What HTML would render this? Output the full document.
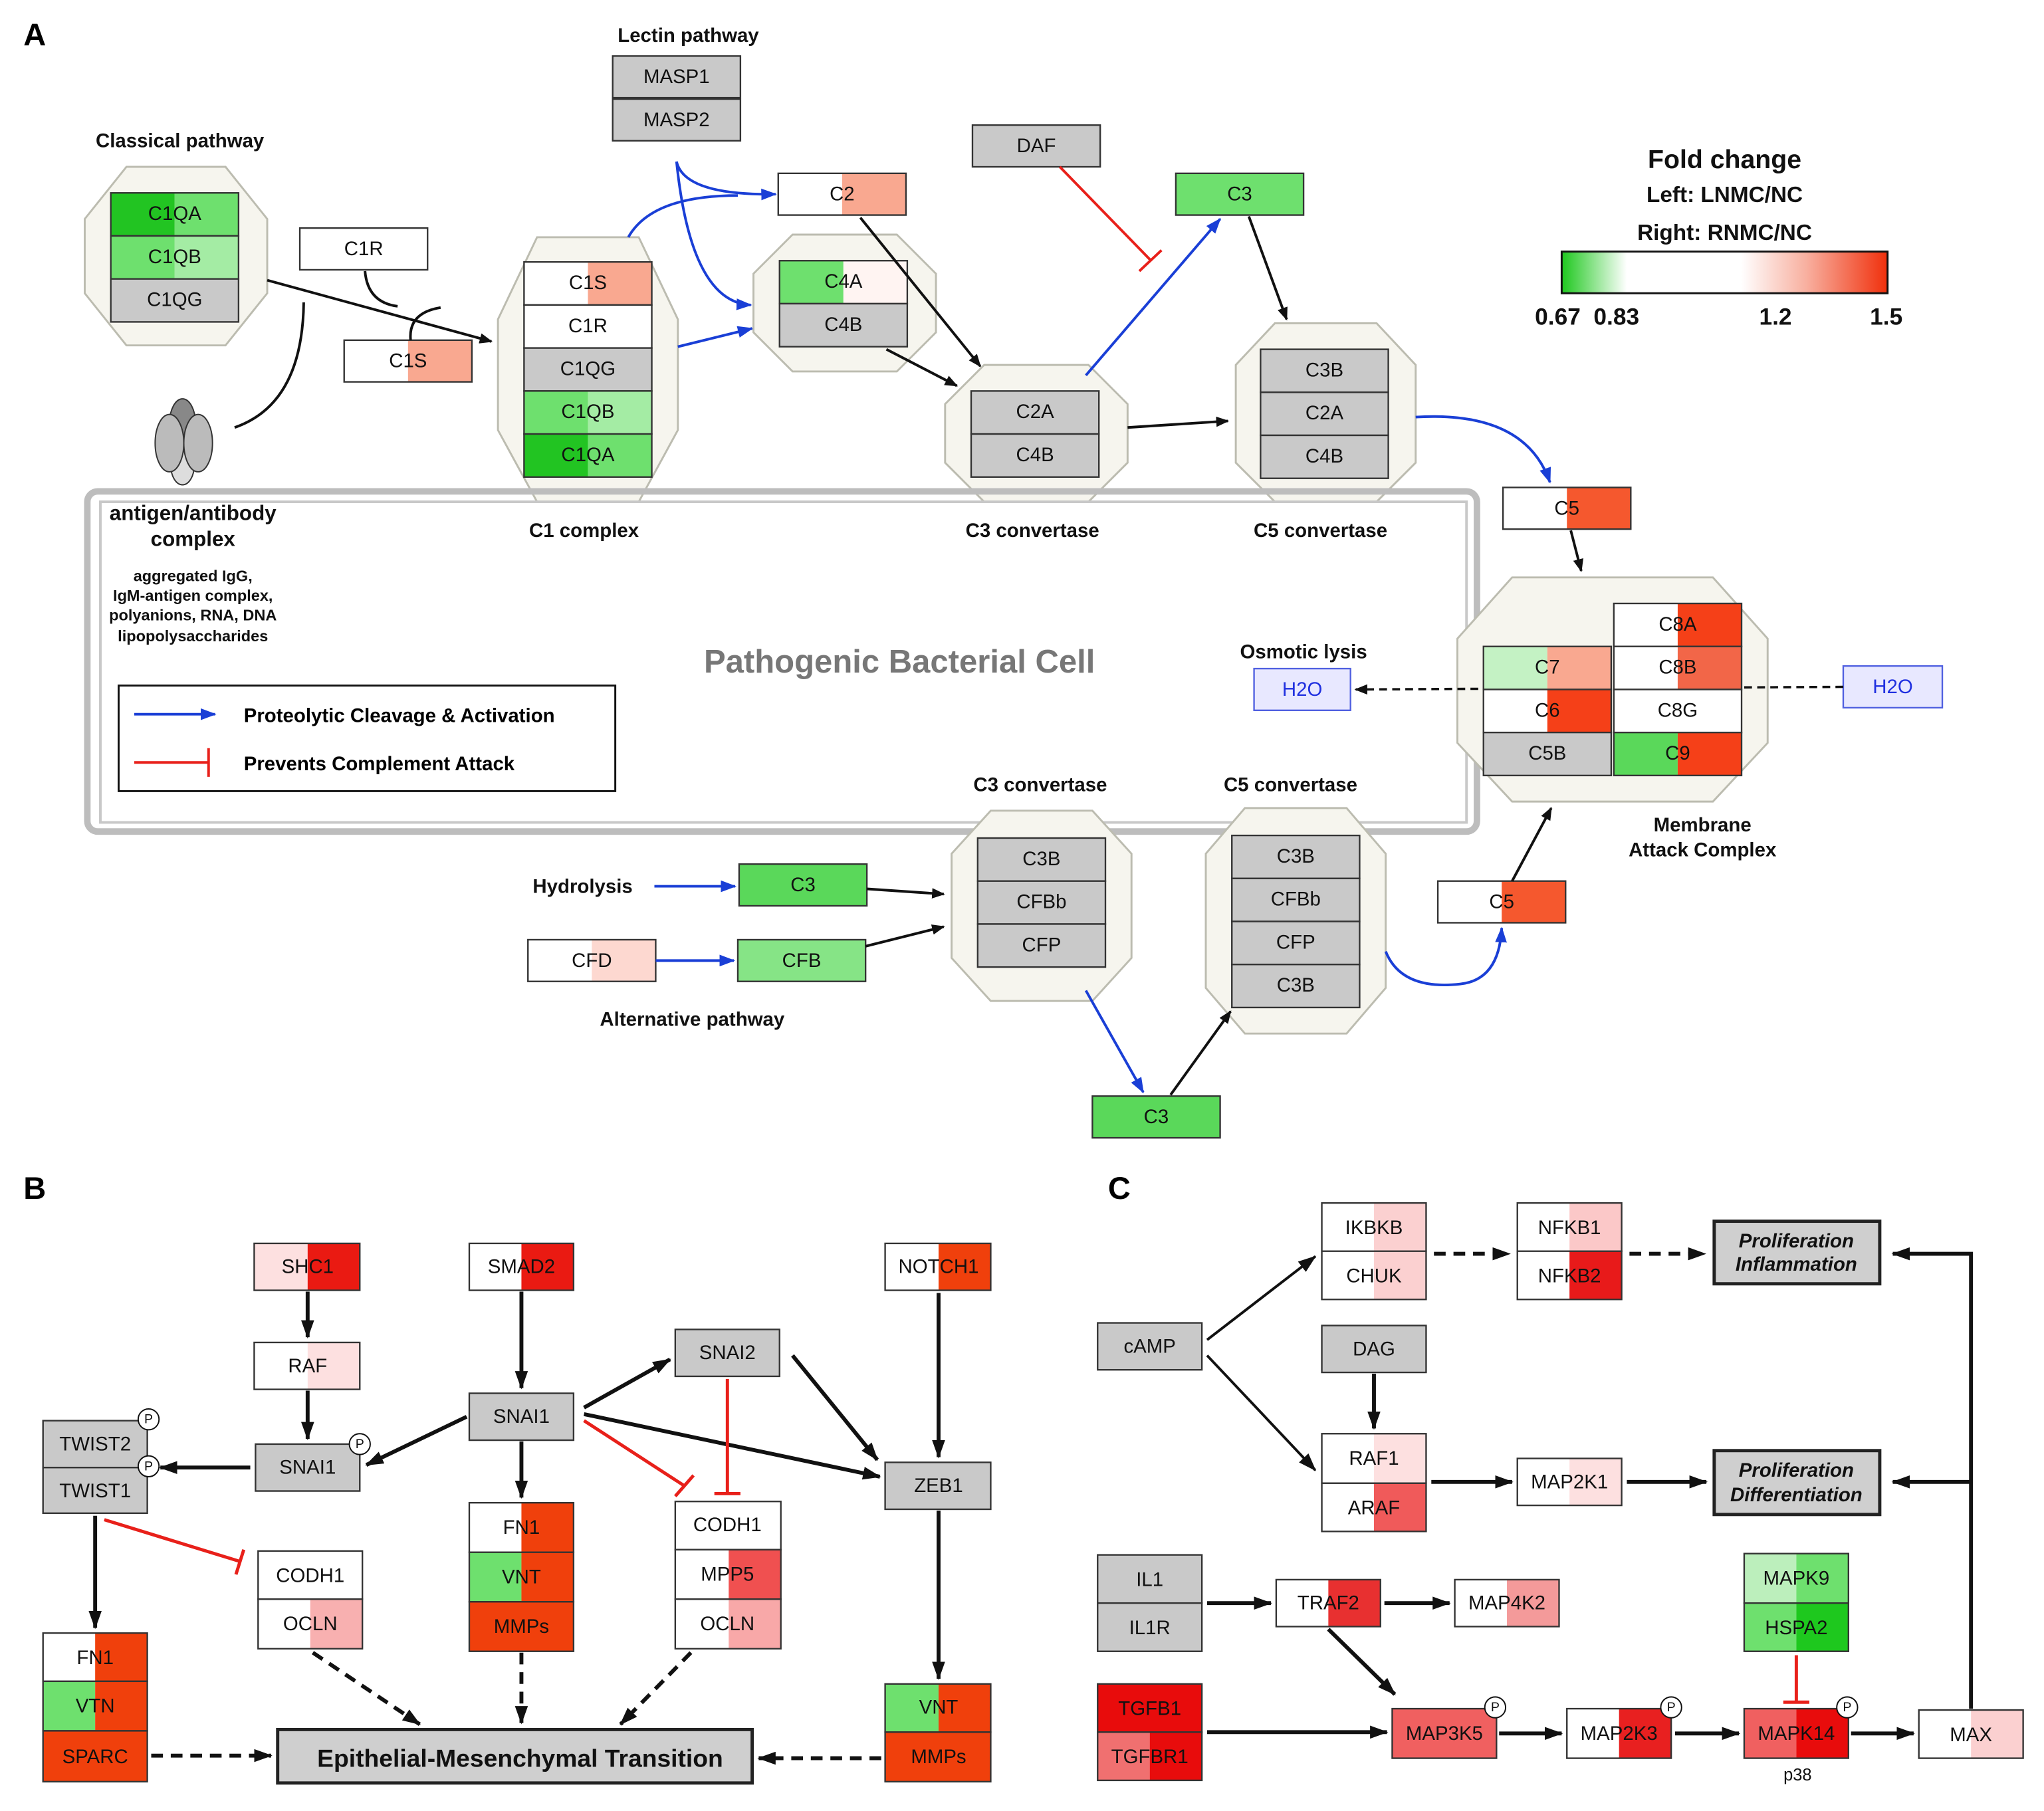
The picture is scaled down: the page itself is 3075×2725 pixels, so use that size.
<!DOCTYPE html>
<html><head><meta charset="utf-8"><style>
html,body{margin:0;padding:0;background:#fff}
svg{display:block}
text{font-family:"Liberation Sans",Arial,sans-serif}
.b{font-size:15px;fill:#111;text-anchor:middle;dominant-baseline:central}
.l{font-size:15px;font-weight:bold;fill:#111;text-anchor:middle}
.o{stroke:#333;stroke-width:1.2}
.o:not([fill]){fill:none}
.oct{fill:#f6f5ee;stroke:#bcbcb0;stroke-width:1.5}
.k{stroke:#111;stroke-width:2;fill:none}
.kb{stroke:#111;stroke-width:3;fill:none}
.bl{stroke:#1a3fd6;stroke-width:2;fill:none}
.rd{stroke:#e8201a;stroke-width:2;fill:none}
.pc{fill:#fff;stroke:#111;stroke-width:1}
</style></head><body>
<svg width="3075" height="2725" viewBox="0 0 1568 1389.5" preserveAspectRatio="none" xmlns="http://www.w3.org/2000/svg">
<defs>
<marker id="ak" markerWidth="10" markerHeight="8" refX="9" refY="4" orient="auto" markerUnits="userSpaceOnUse"><path d="M0,0L10,4L0,8z" fill="#111"/></marker>
<marker id="akb" markerWidth="14" markerHeight="10" refX="13" refY="5" orient="auto" markerUnits="userSpaceOnUse"><path d="M0,0L14,5L0,10z" fill="#111"/></marker>
<marker id="ab" markerWidth="12" markerHeight="9" refX="11" refY="4.5" orient="auto" markerUnits="userSpaceOnUse"><path d="M0,0L12,4.5L0,9z" fill="#1a3fd6"/></marker>
<linearGradient id="fc" x1="0" x2="1"><stop offset="0" stop-color="#1ec81e"/><stop offset="0.2" stop-color="#ffffff"/><stop offset="0.55" stop-color="#ffffff"/><stop offset="0.75" stop-color="#f8b0a0"/><stop offset="1" stop-color="#f0300c"/></linearGradient>
</defs>

<!-- ===== A ===== -->
<text x="18" y="35" style="font-size:24px;font-weight:bold">A</text>
<text x="138" y="113" class="l">Classical pathway</text>
<polygon class="oct" points="97,128 173,128 205,168 205,225 173,265 97,265 65,225 65,168"/>
<rect x="85" y="148" width="49" height="33" fill="#22c422"/><rect x="134" y="148" width="49" height="33" fill="#6ee06e"/><rect x="85" y="148" width="98" height="33" class="o"/><text x="134" y="164" class="b">C1QA</text>
<rect x="85" y="181" width="49" height="33" fill="#6ee06e"/><rect x="134" y="181" width="49" height="33" fill="#a4eca4"/><rect x="85" y="181" width="98" height="33" class="o"/><text x="134" y="197" class="b">C1QB</text>
<rect x="85" y="214" width="98" height="33" fill="#c9c9c9" class="o"/><text x="134" y="230" class="b">C1QG</text>

<rect x="230" y="175" width="98" height="32" fill="#fff" class="o"/><text x="279" y="191" class="b">C1R</text>
<rect x="264" y="261" width="49" height="32" fill="#fff"/><rect x="313" y="261" width="49" height="32" fill="#f9a890"/><rect x="264" y="261" width="98" height="32" class="o"/><text x="313" y="277" class="b">C1S</text>
<path class="k" d="M205,215 L377,262" marker-end="url(#ak)"/>
<path class="k" d="M280,208 Q282,232 305,235"/>
<path class="k" d="M315,261 Q313,240 338,236"/>
<path class="k" d="M233,232 Q232,310 180,328"/>
<!-- antibody -->
<ellipse cx="140" cy="325" rx="10" ry="19" fill="#888" stroke="#333"/>
<ellipse cx="140" cy="357" rx="9" ry="15" fill="#ddd" stroke="#333"/>
<ellipse cx="130" cy="340" rx="11" ry="22" fill="#bbb" stroke="#333"/>
<ellipse cx="152" cy="340" rx="11" ry="22" fill="#bbb" stroke="#333"/>

<!-- C1 complex -->
<polygon class="oct" points="412,182 490,182 520,245 520,330 490,385 412,385 382,330 382,245"/>
<rect x="402" y="201" width="49" height="33" fill="#fff"/><rect x="451" y="201" width="49" height="33" fill="#f9a890"/><rect x="402" y="201" width="98" height="33" class="o"/><text x="451" y="217" class="b">C1S</text>
<rect x="402" y="234" width="98" height="33" fill="#fff" class="o"/><text x="451" y="250" class="b">C1R</text>
<rect x="402" y="267" width="98" height="33" fill="#c9c9c9" class="o"/><text x="451" y="283" class="b">C1QG</text>
<rect x="402" y="300" width="49" height="33" fill="#6ee06e"/><rect x="451" y="300" width="49" height="33" fill="#a4eca4"/><rect x="402" y="300" width="98" height="33" class="o"/><text x="451" y="316" class="b">C1QB</text>
<rect x="402" y="333" width="49" height="33" fill="#22c422"/><rect x="451" y="333" width="49" height="33" fill="#6ee06e"/><rect x="402" y="333" width="98" height="33" class="o"/><text x="451" y="349" class="b">C1QA</text>
<text x="448" y="412" class="l">C1 complex</text>

<!-- Lectin -->
<text x="528" y="32" class="l">Lectin pathway</text>
<rect x="470" y="43" width="98" height="32" fill="#c9c9c9" class="o"/><text x="519" y="59" class="b">MASP1</text>
<rect x="470" y="76" width="98" height="32" fill="#c9c9c9" class="o"/><text x="519" y="92" class="b">MASP2</text>
<rect x="597" y="133" width="49" height="32" fill="#fff"/><rect x="646" y="133" width="49" height="32" fill="#f9a890"/><rect x="597" y="133" width="98" height="32" class="o"/><text x="646" y="149" class="b">C2</text>
<path class="bl" d="M519,124 Q525,150 595,149" marker-end="url(#ab)"/>
<path class="bl" d="M519,124 Q530,232 576,234" marker-end="url(#ab)"/>
<path class="bl" d="M482,182 Q500,150 566,150"/>
<path class="bl" d="M520,266 L577,252" marker-end="url(#ab)"/>

<polygon class="oct" points="608,180 688,180 718,210 718,255 688,285 608,285 578,255 578,210"/>
<rect x="598" y="200" width="49" height="33" fill="#6ee06e"/><rect x="647" y="200" width="49" height="33" fill="#fff4f2"/><rect x="598" y="200" width="98" height="33" class="o"/><text x="647" y="216" class="b">C4A</text>
<rect x="598" y="233" width="98" height="33" fill="#c9c9c9" class="o"/><text x="647" y="249" class="b">C4B</text>

<rect x="746" y="96" width="98" height="32" fill="#c9c9c9" class="o"/><text x="795" y="112" class="b">DAF</text>
<path class="rd" d="M813,128 L883,200"/><path class="rd" d="M874,208 L891,192"/>
<rect x="902" y="133" width="98" height="32" fill="#6ee06e" class="o"/><text x="951" y="149" class="b">C3</text>

<polygon class="oct" points="755,280 835,280 865,310 865,355 835,385 755,385 725,355 725,310"/>
<rect x="745" y="300" width="98" height="33" fill="#c9c9c9" class="o"/><text x="794" y="316" class="b">C2A</text>
<rect x="745" y="333" width="98" height="33" fill="#c9c9c9" class="o"/><text x="794" y="349" class="b">C4B</text>
<text x="792" y="412" class="l">C3 convertase</text>
<path class="k" d="M660,167 L752,281" marker-end="url(#ak)"/>
<path class="k" d="M680,268 L734,296" marker-end="url(#ak)"/>
<path class="bl" d="M833,288 L936,168" marker-end="url(#ab)"/>
<path class="k" d="M958,166 L987,245" marker-end="url(#ak)"/>
<path class="k" d="M865,328 L942,323" marker-end="url(#ak)"/>

<polygon class="oct" points="978,248 1056,248 1086,280 1086,355 1056,385 978,385 948,355 948,280"/>
<rect x="967" y="268" width="98" height="33" fill="#c9c9c9" class="o"/><text x="1016" y="284" class="b">C3B</text>
<rect x="967" y="301" width="98" height="33" fill="#c9c9c9" class="o"/><text x="1016" y="317" class="b">C2A</text>
<rect x="967" y="334" width="98" height="33" fill="#c9c9c9" class="o"/><text x="1016" y="350" class="b">C4B</text>
<text x="1013" y="412" class="l">C5 convertase</text>
<path class="bl" d="M1086,320 Q1170,315 1189,370" marker-end="url(#ab)"/>

<!-- legend -->
<text x="1323" y="129" class="l" style="font-size:20px">Fold change</text>
<text x="1323" y="155" class="l" style="font-size:17px">Left: LNMC/NC</text>
<text x="1323" y="184" class="l" style="font-size:17px">Right: RNMC/NC</text>
<rect x="1198" y="193" width="250" height="32" fill="url(#fc)" stroke="#111" stroke-width="1.5"/>
<text x="1195" y="249" class="l" style="font-size:18px">0.67</text>
<text x="1240" y="249" class="l" style="font-size:18px">0.83</text>
<text x="1362" y="249" class="l" style="font-size:18px">1.2</text>
<text x="1447" y="249" class="l" style="font-size:18px">1.5</text>

<rect x="1153" y="374" width="49" height="32" fill="#fff"/><rect x="1202" y="374" width="49" height="32" fill="#f5582e"/><rect x="1153" y="374" width="98" height="32" class="o"/><text x="1202" y="390" class="b">C5</text>
<path class="k" d="M1205,407 L1213,438" marker-end="url(#ak)"/>

<!-- cell -->
<rect x="67" y="377" width="1066" height="261" rx="8" fill="none" stroke="#bdbdbd" stroke-width="5"/>
<rect x="77" y="385" width="1048" height="246" fill="none" stroke="#c8c8c8" stroke-width="2"/>
<text x="148" y="399" class="l" style="font-size:16px">antigen/antibody</text>
<text x="148" y="419" class="l" style="font-size:16px">complex</text>
<text x="148" y="446" class="l" style="font-size:12px">aggregated IgG,</text>
<text x="148" y="461" class="l" style="font-size:12px">IgM-antigen complex,</text>
<text x="148" y="476" class="l" style="font-size:12px">polyanions, RNA, DNA</text>
<text x="148" y="492" class="l" style="font-size:12px">lipopolysaccharides</text>
<text x="690" y="516" class="l" style="font-size:25px;fill:#777">Pathogenic Bacterial Cell</text>
<rect x="91" y="526" width="381" height="81" fill="#fff" stroke="#111" stroke-width="1.5"/>
<path class="bl" d="M103,548 L165,548" marker-end="url(#ab)"/>
<path class="rd" d="M103,585 L160,585 M160,574 L160,596"/>
<text x="187" y="554" style="font-size:15px;font-weight:bold">Proteolytic Cleavage &amp; Activation</text>
<text x="187" y="591" style="font-size:15px;font-weight:bold">Prevents Complement Attack</text>

<text x="1000" y="505" class="l">Osmotic lysis</text>
<rect x="962" y="513" width="74" height="32" fill="#e8e8ff" stroke="#5060e0" stroke-width="1.2"/><text x="999" y="529" class="b" style="fill:#2030e0">H2O</text>
<rect x="1414" y="511" width="76" height="32" fill="#e8e8ff" stroke="#5060e0" stroke-width="1.2"/><text x="1452" y="527" class="b" style="fill:#2030e0">H2O</text>

<!-- MAC -->
<polygon class="oct" points="1160,443 1314,443 1356,490 1356,570 1314,615 1160,615 1118,570 1118,490"/>
<path d="M1414,527 L1040,529" stroke="#111" stroke-width="1.8" stroke-dasharray="6,4" fill="none" marker-end="url(#ak)"/>
<rect x="1138" y="496" width="49" height="33" fill="#c4f2c4"/><rect x="1187" y="496" width="49" height="33" fill="#f9a890"/><rect x="1138" y="496" width="98" height="33" class="o"/><text x="1187" y="512" class="b">C7</text>
<rect x="1138" y="529" width="49" height="33" fill="#fff"/><rect x="1187" y="529" width="49" height="33" fill="#f54018"/><rect x="1138" y="529" width="98" height="33" class="o"/><text x="1187" y="545" class="b">C6</text>
<rect x="1138" y="562" width="98" height="33" fill="#c9c9c9" class="o"/><text x="1187" y="578" class="b">C5B</text>
<rect x="1238" y="463" width="49" height="33" fill="#fff"/><rect x="1287" y="463" width="49" height="33" fill="#f54018"/><rect x="1238" y="463" width="98" height="33" class="o"/><text x="1287" y="479" class="b">C8A</text>
<rect x="1238" y="496" width="49" height="33" fill="#fff"/><rect x="1287" y="496" width="49" height="33" fill="#f26648"/><rect x="1238" y="496" width="98" height="33" class="o"/><text x="1287" y="512" class="b">C8B</text>
<rect x="1238" y="529" width="98" height="33" fill="#fff" class="o"/><text x="1287" y="545" class="b">C8G</text>
<rect x="1238" y="562" width="49" height="33" fill="#5ad85a"/><rect x="1287" y="562" width="49" height="33" fill="#f54018"/><rect x="1238" y="562" width="98" height="33" class="o"/><text x="1287" y="578" class="b">C9</text>
<text x="1306" y="638" class="l">Membrane</text>
<text x="1306" y="657" class="l">Attack Complex</text>

<!-- alternative -->
<text x="798" y="607" class="l">C3 convertase</text>
<text x="990" y="607" class="l">C5 convertase</text>
<polygon class="oct" points="760,622 838,622 868,655 868,735 838,768 760,768 730,735 730,655"/>
<rect x="750" y="643" width="98" height="33" fill="#c9c9c9" class="o"/><text x="799" y="659" class="b">C3B</text>
<rect x="750" y="676" width="98" height="33" fill="#c9c9c9" class="o"/><text x="799" y="692" class="b">CFBb</text>
<rect x="750" y="709" width="98" height="33" fill="#c9c9c9" class="o"/><text x="799" y="725" class="b">CFP</text>
<polygon class="oct" points="955,620 1033,620 1063,655 1063,758 1033,793 955,793 925,758 925,655"/>
<rect x="945" y="641" width="98" height="33" fill="#c9c9c9" class="o"/><text x="994" y="657" class="b">C3B</text>
<rect x="945" y="674" width="98" height="33" fill="#c9c9c9" class="o"/><text x="994" y="690" class="b">CFBb</text>
<rect x="945" y="707" width="98" height="33" fill="#c9c9c9" class="o"/><text x="994" y="723" class="b">CFP</text>
<rect x="945" y="740" width="98" height="33" fill="#c9c9c9" class="o"/><text x="994" y="756" class="b">C3B</text>

<text x="447" y="685" class="l">Hydrolysis</text>
<path class="bl" d="M502,680 L564,680" marker-end="url(#ab)"/>
<rect x="567" y="663" width="98" height="32" fill="#5ad85a" class="o"/><text x="616" y="679" class="b">C3</text>
<path class="k" d="M665,682 L724,686" marker-end="url(#ak)"/>
<rect x="405" y="721" width="49" height="32" fill="#fff"/><rect x="454" y="721" width="49" height="32" fill="#fdd8d0"/><rect x="405" y="721" width="98" height="32" class="o"/><text x="454" y="737" class="b">CFD</text>
<path class="bl" d="M503,737 L563,737" marker-end="url(#ab)"/>
<rect x="566" y="721" width="98" height="32" fill="#86e486" class="o"/><text x="615" y="737" class="b">CFB</text>
<path class="k" d="M664,726 L724,711" marker-end="url(#ak)"/>
<text x="531" y="787" class="l">Alternative pathway</text>

<rect x="1103" y="676" width="49" height="32" fill="#fff"/><rect x="1152" y="676" width="49" height="32" fill="#f5582e"/><rect x="1103" y="676" width="98" height="32" class="o"/><text x="1152" y="692" class="b">C5</text>
<path class="bl" d="M1063,730 Q1075,760 1120,755 Q1150,752 1152,712" marker-end="url(#ab)"/>
<path class="k" d="M1160,676 L1190,620" marker-end="url(#ak)"/>
<rect x="838" y="841" width="98" height="32" fill="#5ad85a" class="o"/><text x="887" y="857" class="b">C3</text>
<path class="bl" d="M833,760 L877,838" marker-end="url(#ab)"/>
<path class="k" d="M898,840 L944,776" marker-end="url(#ak)"/>

<!-- ===== B ===== -->
<text x="18" y="920" style="font-size:24px;font-weight:bold">B</text>
<rect x="195" y="954" width="41" height="36" fill="#fde0e0"/><rect x="236" y="954" width="40" height="36" fill="#ea1a12"/><rect x="195" y="954" width="81" height="36" class="o" stroke="#999"/><text x="236" y="972" class="b">SHC1</text>
<rect x="360" y="954" width="40" height="36" fill="#fff"/><rect x="400" y="954" width="40" height="36" fill="#ea1a12"/><rect x="360" y="954" width="80" height="36" class="o" stroke="#999"/><text x="400" y="972" class="b">SMAD2</text>
<rect x="679" y="954" width="41" height="36" fill="#fff"/><rect x="720" y="954" width="40" height="36" fill="#f0400c"/><rect x="679" y="954" width="81" height="36" class="o" stroke="#999"/><text x="720" y="972" class="b">NOTCH1</text>
<rect x="195" y="1030" width="41" height="36" fill="#fff"/><rect x="236" y="1030" width="40" height="36" fill="#fde0e0"/><rect x="195" y="1030" width="81" height="36" class="o" stroke="#999"/><text x="236" y="1048" class="b">RAF</text>
<rect x="360" y="1069" width="80" height="36" fill="#c9c9c9" class="o" stroke="#999"/><text x="400" y="1087" class="b">SNAI1</text>
<rect x="518" y="1020" width="80" height="36" fill="#c9c9c9" class="o" stroke="#999"/><text x="558" y="1038" class="b">SNAI2</text>
<rect x="33" y="1090" width="80" height="36" fill="#c9c9c9" class="o" stroke="#999"/><text x="73" y="1108" class="b">TWIST2</text>
<rect x="33" y="1126" width="80" height="35" fill="#c9c9c9" class="o" stroke="#999"/><text x="73" y="1144" class="b">TWIST1</text>
<circle cx="114" cy="1089" r="8" class="pc"/><text x="114" y="1089" class="b" style="font-size:10px">P</text>
<circle cx="114" cy="1125" r="8" class="pc"/><text x="114" y="1125" class="b" style="font-size:10px">P</text>
<rect x="196" y="1108" width="80" height="36" fill="#c9c9c9" class="o" stroke="#999"/><text x="236" y="1126" class="b">SNAI1</text>
<circle cx="276" cy="1108" r="8" class="pc"/><text x="276" y="1108" class="b" style="font-size:10px">P</text>
<rect x="679" y="1122" width="81" height="36" fill="#c9c9c9" class="o" stroke="#999"/><text x="720" y="1140" class="b">ZEB1</text>
<rect x="198" y="1190" width="80" height="37" fill="#fff" class="o" stroke="#999"/><text x="238" y="1209" class="b">CODH1</text>
<rect x="198" y="1227" width="40" height="38" fill="#fff"/><rect x="238" y="1227" width="40" height="38" fill="#f8b0b0"/><rect x="198" y="1227" width="80" height="38" class="o" stroke="#999"/><text x="238" y="1246" class="b">OCLN</text>
<rect x="360" y="1153" width="40" height="38" fill="#fff"/><rect x="400" y="1153" width="40" height="38" fill="#f0400c"/><rect x="360" y="1153" width="80" height="38" class="o" stroke="#999"/><text x="400" y="1172" class="b">FN1</text>
<rect x="360" y="1191" width="40" height="38" fill="#6ee06e"/><rect x="400" y="1191" width="40" height="38" fill="#f0400c"/><rect x="360" y="1191" width="80" height="38" class="o" stroke="#999"/><text x="400" y="1210" class="b">VNT</text>
<rect x="360" y="1229" width="80" height="38" fill="#f0400c" class="o" stroke="#999"/><text x="400" y="1248" class="b">MMPs</text>
<rect x="518" y="1152" width="81" height="37" fill="#fff" class="o" stroke="#999"/><text x="558" y="1170" class="b">CODH1</text>
<rect x="518" y="1189" width="41" height="38" fill="#fff"/><rect x="559" y="1189" width="40" height="38" fill="#f05050"/><rect x="518" y="1189" width="81" height="38" class="o" stroke="#999"/><text x="558" y="1208" class="b">MPP5</text>
<rect x="518" y="1227" width="41" height="38" fill="#fff"/><rect x="559" y="1227" width="40" height="38" fill="#f8a8a8"/><rect x="518" y="1227" width="81" height="38" class="o" stroke="#999"/><text x="558" y="1246" class="b">OCLN</text>
<rect x="33" y="1253" width="40" height="37" fill="#fff"/><rect x="73" y="1253" width="40" height="37" fill="#f0400c"/><rect x="33" y="1253" width="80" height="37" class="o" stroke="#999"/><text x="73" y="1272" class="b">FN1</text>
<rect x="33" y="1290" width="40" height="38" fill="#6ee06e"/><rect x="73" y="1290" width="40" height="38" fill="#f0400c"/><rect x="33" y="1290" width="80" height="38" class="o" stroke="#999"/><text x="73" y="1309" class="b">VTN</text>
<rect x="33" y="1328" width="80" height="39" fill="#f0400c" class="o" stroke="#999"/><text x="73" y="1348" class="b">SPARC</text>
<rect x="679" y="1292" width="41" height="37" fill="#6ee06e"/><rect x="720" y="1292" width="40" height="37" fill="#f0400c"/><rect x="679" y="1292" width="81" height="37" class="o" stroke="#999"/><text x="720" y="1310" class="b">VNT</text>
<rect x="679" y="1329" width="81" height="38" fill="#f0400c" class="o" stroke="#999"/><text x="720" y="1348" class="b">MMPs</text>
<rect x="213" y="1327" width="364" height="41" fill="#cfcfcf" stroke="#222" stroke-width="2.5"/><text x="399" y="1349" class="b" style="font-size:19px;font-weight:bold">Epithelial-Mesenchymal Transition</text>

<path class="kb" d="M236,991 L236,1026" marker-end="url(#akb)"/>
<path class="kb" d="M236,1067 L236,1104" marker-end="url(#akb)"/>
<path class="kb" d="M192,1126 L123,1126" marker-end="url(#akb)"/>
<path class="kb" d="M400,991 L400,1065" marker-end="url(#akb)"/>
<path class="kb" d="M358,1087 L281,1124" marker-end="url(#akb)"/>
<path class="kb" d="M400,1106 L400,1149" marker-end="url(#akb)"/>
<path class="kb" d="M448,1080 L514,1043" marker-end="url(#akb)"/>
<path class="kb" d="M448,1085 L675,1133" marker-end="url(#akb)"/>
<path class="kb" d="M608,1040 L673,1120" marker-end="url(#akb)"/>
<path class="kb" d="M720,992 L720,1118" marker-end="url(#akb)"/>
<path class="kb" d="M720,1159 L720,1288" marker-end="url(#akb)"/>
<path class="kb" d="M73,1163 L73,1249" marker-end="url(#akb)"/>
<path d="M448,1090 L525,1140 M518,1148 L532,1132" stroke="#e8201a" stroke-width="2.5" fill="none"/>
<path d="M558,1058 L558,1146 M548,1146 L568,1146" stroke="#e8201a" stroke-width="2.5" fill="none"/>
<path d="M80,1166 L184,1198 M181,1208 L187,1189" stroke="#e8201a" stroke-width="2.5" fill="none"/>
<g stroke="#111" stroke-width="3" fill="none" stroke-dasharray="9,6">
<path d="M116,1347 L208,1347" marker-end="url(#akb)"/>
<path d="M676,1349 L582,1349" marker-end="url(#akb)"/>
<path d="M240,1268 L322,1323" marker-end="url(#akb)"/>
<path d="M400,1268 L400,1322" marker-end="url(#akb)"/>
<path d="M530,1268 L476,1323" marker-end="url(#akb)"/>
</g>

<!-- ===== C ===== -->
<text x="850" y="920" style="font-size:24px;font-weight:bold">C</text>
<rect x="1014" y="923" width="40" height="37" fill="#fff"/><rect x="1054" y="923" width="40" height="37" fill="#fbd0d0"/><rect x="1014" y="923" width="80" height="37" class="o" stroke="#999"/><text x="1054" y="942" class="b">IKBKB</text>
<rect x="1014" y="960" width="40" height="37" fill="#fff"/><rect x="1054" y="960" width="40" height="37" fill="#fbd0d0"/><rect x="1014" y="960" width="80" height="37" class="o" stroke="#999"/><text x="1054" y="979" class="b">CHUK</text>
<rect x="1164" y="923" width="40" height="37" fill="#fff"/><rect x="1204" y="923" width="40" height="37" fill="#fbc8c8"/><rect x="1164" y="923" width="80" height="37" class="o" stroke="#999"/><text x="1204" y="942" class="b">NFKB1</text>
<rect x="1164" y="960" width="40" height="37" fill="#fff"/><rect x="1204" y="960" width="40" height="37" fill="#e81a1a"/><rect x="1164" y="960" width="80" height="37" class="o" stroke="#999"/><text x="1204" y="979" class="b">NFKB2</text>
<rect x="1315" y="937" width="127" height="48" fill="#cfcfcf" stroke="#222" stroke-width="2.5"/>
<text x="1378" y="957" class="l" style="font-style:italic">Proliferation</text><text x="1378" y="975" class="l" style="font-style:italic">Inflammation</text>
<rect x="842" y="1015" width="80" height="36" fill="#c9c9c9" class="o" stroke="#999"/><text x="882" y="1033" class="b">cAMP</text>
<rect x="1014" y="1017" width="80" height="36" fill="#c9c9c9" class="o" stroke="#999"/><text x="1054" y="1035" class="b">DAG</text>
<rect x="1014" y="1100" width="40" height="38" fill="#fff"/><rect x="1054" y="1100" width="40" height="38" fill="#fde0e0"/><rect x="1014" y="1100" width="80" height="38" class="o" stroke="#999"/><text x="1054" y="1119" class="b">RAF1</text>
<rect x="1014" y="1138" width="40" height="37" fill="#fff"/><rect x="1054" y="1138" width="40" height="37" fill="#f05a5a"/><rect x="1014" y="1138" width="80" height="37" class="o" stroke="#999"/><text x="1054" y="1157" class="b">ARAF</text>
<rect x="1164" y="1119" width="40" height="36" fill="#fff"/><rect x="1204" y="1119" width="40" height="36" fill="#fde0e0"/><rect x="1164" y="1119" width="80" height="36" class="o" stroke="#999"/><text x="1204" y="1137" class="b">MAP2K1</text>
<rect x="1315" y="1113" width="127" height="49" fill="#cfcfcf" stroke="#222" stroke-width="2.5"/>
<text x="1378" y="1133" class="l" style="font-style:italic">Proliferation</text><text x="1378" y="1152" class="l" style="font-style:italic">Differentiation</text>
<rect x="842" y="1193" width="80" height="37" fill="#c9c9c9" class="o" stroke="#999"/><text x="882" y="1212" class="b">IL1</text>
<rect x="842" y="1230" width="80" height="37" fill="#c9c9c9" class="o" stroke="#999"/><text x="882" y="1249" class="b">IL1R</text>
<rect x="979" y="1212" width="40" height="36" fill="#fff"/><rect x="1019" y="1212" width="40" height="36" fill="#e83030"/><rect x="979" y="1212" width="80" height="36" class="o" stroke="#999"/><text x="1019" y="1230" class="b">TRAF2</text>
<rect x="1116" y="1212" width="40" height="36" fill="#fff"/><rect x="1156" y="1212" width="40" height="36" fill="#f49a9a"/><rect x="1116" y="1212" width="80" height="36" class="o" stroke="#999"/><text x="1156" y="1230" class="b">MAP4K2</text>
<rect x="1338" y="1192" width="40" height="38" fill="#bcefbc"/><rect x="1378" y="1192" width="40" height="38" fill="#6ee06e"/><rect x="1338" y="1192" width="80" height="38" class="o" stroke="#999"/><text x="1378" y="1211" class="b">MAPK9</text>
<rect x="1338" y="1230" width="40" height="37" fill="#6ee06e"/><rect x="1378" y="1230" width="40" height="37" fill="#1ec81e"/><rect x="1338" y="1230" width="80" height="37" class="o" stroke="#999"/><text x="1378" y="1249" class="b">HSPA2</text>
<rect x="842" y="1292" width="80" height="37" fill="#e80c0c" class="o" stroke="#999"/><text x="882" y="1311" class="b">TGFB1</text>
<rect x="842" y="1329" width="40" height="37" fill="#f07070"/><rect x="882" y="1329" width="40" height="37" fill="#e80c0c"/><rect x="842" y="1329" width="80" height="37" class="o" stroke="#999"/><text x="882" y="1348" class="b">TGFBR1</text>
<rect x="1068" y="1311" width="80" height="38" fill="#f06060" class="o" stroke="#999"/><text x="1108" y="1330" class="b">MAP3K5</text>
<circle cx="1147" cy="1310" r="8" class="pc"/><text x="1147" y="1310" class="b" style="font-size:10px">P</text>
<rect x="1202" y="1311" width="40" height="38" fill="#fff"/><rect x="1242" y="1311" width="40" height="38" fill="#e82020"/><rect x="1202" y="1311" width="80" height="38" class="o" stroke="#999"/><text x="1242" y="1330" class="b">MAP2K3</text>
<circle cx="1282" cy="1310" r="8" class="pc"/><text x="1282" y="1310" class="b" style="font-size:10px">P</text>
<rect x="1338" y="1311" width="40" height="38" fill="#f06060"/><rect x="1378" y="1311" width="40" height="38" fill="#e80c0c"/><rect x="1338" y="1311" width="80" height="38" class="o" stroke="#999"/><text x="1378" y="1330" class="b">MAPK14</text>
<circle cx="1417" cy="1310" r="8" class="pc"/><text x="1417" y="1310" class="b" style="font-size:10px">P</text>
<text x="1379" y="1362" class="b" style="font-size:13px">p38</text>
<rect x="1472" y="1312" width="40" height="37" fill="#fff"/><rect x="1512" y="1312" width="40" height="37" fill="#fbd0d0"/><rect x="1472" y="1312" width="80" height="37" class="o" stroke="#999"/><text x="1512" y="1331" class="b">MAX</text>

<path class="k" d="M926,1028 L1009,964" marker-end="url(#akb)" stroke-width="2.5"/>
<path class="k" d="M926,1040 L1009,1128" marker-end="url(#akb)" stroke-width="2.5"/>
<path class="kb" d="M1054,1054 L1054,1096" marker-end="url(#akb)"/>
<path class="kb" d="M1098,1137 L1160,1137" marker-end="url(#akb)"/>
<path class="kb" d="M1248,1137 L1309,1137" marker-end="url(#akb)"/>
<path class="kb" d="M926,1230 L975,1230" marker-end="url(#akb)"/>
<path class="kb" d="M1062,1230 L1112,1230" marker-end="url(#akb)"/>
<path class="kb" d="M1019,1250 L1070,1300" marker-end="url(#akb)"/>
<path class="kb" d="M926,1329 L1064,1329" marker-end="url(#akb)"/>
<path class="kb" d="M1150,1330 L1198,1330" marker-end="url(#akb)"/>
<path class="kb" d="M1285,1330 L1334,1330" marker-end="url(#akb)"/>
<path class="kb" d="M1420,1330 L1468,1330" marker-end="url(#akb)"/>
<path class="kb" d="M1512,1311 L1512,962 L1452,962" marker-end="url(#akb)"/>
<path class="kb" d="M1512,1137 L1452,1137" marker-end="url(#akb)"/>
<path d="M1378,1270 L1378,1306 M1368,1306 L1388,1306" stroke="#e8201a" stroke-width="2.5" fill="none"/>
<g stroke="#111" stroke-width="3" fill="none" stroke-dasharray="9,6">
<path d="M1100,962 L1158,962" marker-end="url(#akb)"/>
<path d="M1250,962 L1308,962" marker-end="url(#akb)"/>
</g>
</svg>
</body></html>
